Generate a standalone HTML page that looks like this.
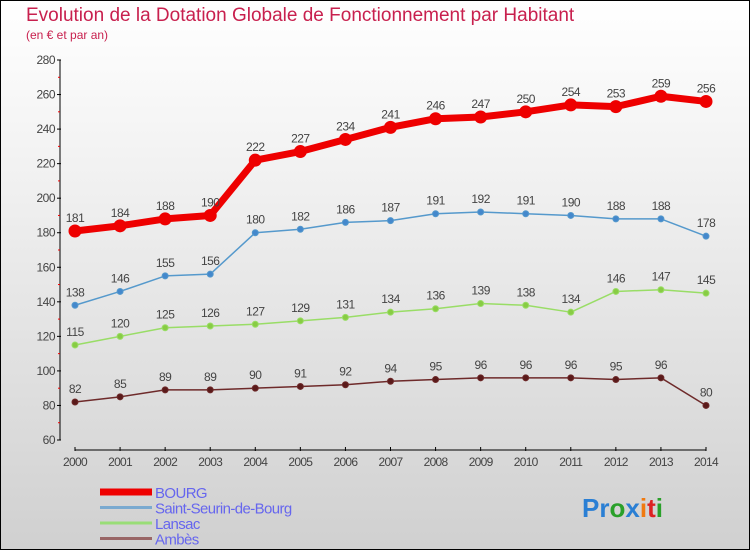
<!DOCTYPE html>
<html><head><meta charset="utf-8"><style>
body{margin:0}
#c{width:750px;height:550px;position:relative;box-sizing:border-box;border:1px solid #000;background:linear-gradient(#ffffff,#f2f2f2 30%,#d0d0d0);font-family:"Liberation Sans",sans-serif;overflow:hidden}
</style></head><body>
<div id="c">
<svg id="s" width="750" height="550" style="position:absolute;left:-1px;top:-1px">
<text x="26" y="21" font-size="19" fill="#c8204e">Evolution de la Dotation Globale de Fonctionnement par Habitant</text>
<text x="26" y="39" font-size="12" fill="#c8204e">(en € et par an)</text>
</svg>
</div>
<script>
const years=["2000","2001","2002","2003","2004","2005","2006","2007","2008","2009","2010","2011","2012","2013","2014"];
const bourg=[181,184,188,190,222,227,234,241,246,247,250,254,253,259,256];
const saintSeurin=[138,146,155,156,180,182,186,187,191,192,191,190,188,188,178];
const lansac=[115,120,125,126,127,129,131,134,136,139,138,134,146,147,145];
const ambes=[82,85,89,89,90,91,92,94,95,96,96,96,95,96,80];
const yTicks=[60,80,100,120,140,160,180,200,220,240,260,280];
const seriesNames=["BOURG","Saint-Seurin-de-Bourg","Lansac","Ambès"];
const NS="http://www.w3.org/2000/svg";
const svg=document.getElementById('s');
const x=i=>75+i*(631/14);
const y=v=>440-(v-60)*380/220;
function el(t,a,p){const e=document.createElementNS(NS,t);for(const k in a)e.setAttribute(k,a[k]);(p||svg).appendChild(e);return e;}
// axes
let ax=el('line',{x1:60,y1:60,x2:60,y2:440,stroke:'#000','stroke-width':1});


let xa=el('line',{x1:75,y1:450,x2:706,y2:450,stroke:'#000','stroke-width':1});


yTicks.forEach(v=>{
 el('line',{x1:57,y1:y(v),x2:61,y2:y(v),stroke:'#000'});
 if(v<280) el('line',{x1:58,y1:y(v+10),x2:60,y2:y(v+10),stroke:'#e00'});
 const t=el('text',{x:55,y:y(v)+4,'font-size':12,fill:'#444','text-anchor':'end','letter-spacing':'-0.5'});
 t.textContent=v;
 
 
});
years.forEach((yr,i)=>{
 el('line',{x1:x(i),y1:447,x2:x(i),y2:451,stroke:'#000'});
 const t=el('text',{x:x(i),y:466,'font-size':12,fill:'#444','text-anchor':'middle','letter-spacing':'-0.7'});
 t.textContent=yr;
 
 
});
function series(data,color,w,r,fill,name){
 const g=el('g',{});
 
 
 el('polyline',{points:data.map((v,i)=>x(i)+','+y(v)).join(' '),fill:'none',stroke:color,'stroke-width':w,'stroke-linejoin':'round'},g);
 data.forEach((v,i)=>{
  const c=el('circle',{cx:x(i),cy:y(v),r:r,fill:fill,stroke:color,'stroke-width':1},g);
  
  
  const t=el('text',{x:x(i),y:y(v)-9,'font-size':12,fill:'#444','text-anchor':'middle','letter-spacing':'-0.5'},g);
  t.textContent=v;
  
  
 });
}
series(ambes,'#6e2a2a',1.5,3,'#5a1a1a','ambes');
series(lansac,'#99dd66',1.5,3,'#88cc44','lansac');
series(saintSeurin,'#5599cc',1.5,3,'#4488cc','saint-seurin');
series(bourg,'#ee0000',7,6,'#ee0000','bourg');
// legend
const lc=['#ee0000','#7aaad0','#99dd77','#996666'],lw=[7,3,3,3];
seriesNames.forEach((n,i)=>{
 const yy=492+i*15.5;
 const l=el('line',{x1:100,y1:yy,x2:152,y2:yy,stroke:lc[i],'stroke-width':lw[i]});
 
 
 const t=el('text',{x:155,y:yy+6,'font-size':15,fill:'#6666ee','letter-spacing':'-0.6'});
 t.textContent=n;
 
 
});
// logo
const lg=el('text',{x:582,y:517,'font-size':26,'font-weight':'bold'});


[['Pr','#2a7fd4'],['o','#2aa02a'],['x','#2a7fd4'],['i','#f07a10'],['t','#dd2222'],['i','#2aa02a']].forEach(([s,c])=>{const ts=el('tspan',{fill:c},lg);ts.textContent=s;});
</script>
</body></html>
